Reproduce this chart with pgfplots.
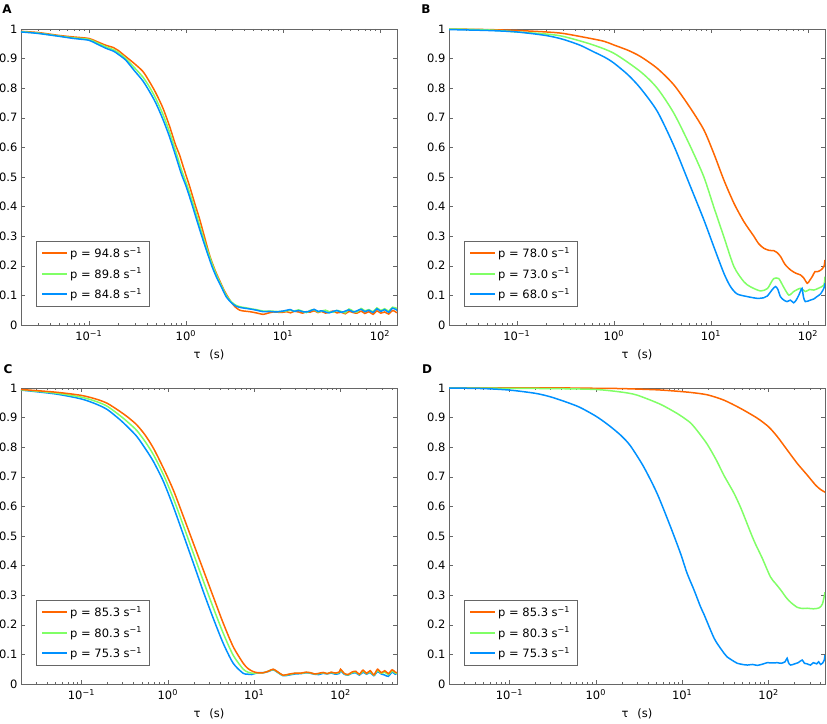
\documentclass[border=0pt]{standalone}
\usepackage{fontspec}
\setmainfont{DejaVu Sans}
\usepackage{pgfplots}
\pgfplotsset{compat=1.18}
\definecolor{cO}{RGB}{255,102,0}
\definecolor{cG}{RGB}{128,255,102}
\definecolor{cB}{RGB}{0,145,255}
\newcommand{\fs}{\fontsize{11.5}{13}\selectfont}
\pgfplotsset{panel/.style={
  scale only axis, width=376pt, height=296pt, anchor=south west,
  ymin=0, ymax=1, xmin=0.02,
  ytick={0,0.1,0.2,0.3,0.4,0.5,0.6,0.7,0.8,0.9,1},
  yticklabels={0,0.1,0.2,0.3,0.4,0.5,0.6,0.7,0.8,0.9,1},
  xtick={0.1,1,10,100},
  xticklabels={10\textsuperscript{−1},10\textsuperscript{0},10\textsuperscript{1},10\textsuperscript{2}},
  tick align=inside, major tick length=4pt, minor tick length=2pt,
  axis line style={black!60, line width=0.6pt},
  every tick/.append style={black!60, line width=0.5pt},
  tick label style={font=\fs},
  xticklabel style={yshift=-2pt},
  xlabel={τ\hspace{9pt}(s)}, xlabel style={font=\fs, yshift=-2pt},
  legend style={at={(rel axis cs:0.04,0.064)}, anchor=south west, draw=black!60,
    font=\fs, row sep=5pt, inner xsep=5pt, inner ysep=3.5pt},
  legend cell align=left,
  legend image code/.code={\draw[##1, line width=2pt] (0pt,0pt) -- (25pt,0pt);},
  every axis plot/.append style={line width=1.5pt, smooth, tension=0.45},
}}
\begin{document}
\begin{tikzpicture}
% ---------------- A ----------------
\begin{axis}[xmode=log, panel, at={(21pt,398pt)}, xmax=150,
  minor xtick={0.03,0.04,0.05,0.06,0.07,0.08,0.09,0.2,0.3,0.4,0.5,0.6,0.7,0.8,0.9,2,3,4,5,6,7,8,9,20,30,40,50,60,70,80,90}]
\addlegendimage{cO}\addlegendentry{p = 94.8 s\textsuperscript{−1}}
\addlegendimage{cG}\addlegendentry{p = 89.8 s\textsuperscript{−1}}
\addlegendimage{cB}\addlegendentry{p = 84.8 s\textsuperscript{−1}}
\addplot[cO, forget plot] table {
0.02 0.992
0.03 0.988
0.05 0.978
0.07 0.973
0.1 0.968
0.12 0.958
0.15 0.945
0.18 0.937
0.2 0.928
0.24 0.907
0.29 0.885
0.36 0.857
0.42 0.823
0.49 0.784
0.58 0.733
0.68 0.671
0.78 0.610
0.86 0.575
0.95 0.530
1.09 0.470
1.25 0.405
1.38 0.360
1.55 0.300
1.76 0.235
2.0 0.185
2.23 0.150
2.5 0.115
2.83 0.085
3.2 0.062
3.59 0.050
4.0 0.047
4.56 0.045
5.3 0.041
6.26 0.036
7.0 0.040
8.0 0.044
9.0 0.043
10 0.043
11 0.045
12 0.041
13 0.046
14.5 0.044
16 0.040
17.5 0.045
19 0.043
21 0.048
23 0.042
25 0.046
27.5 0.040
30 0.044
33 0.047
36 0.041
40 0.043
44 0.038
48 0.046
53 0.042
58 0.040
64 0.047
70 0.039
77 0.045
85 0.036
93 0.048
102 0.040
112 0.044
123 0.037
135 0.049
150 0.041
};
\addplot[cG, forget plot] table {
0.02 0.991
0.03 0.986
0.05 0.976
0.07 0.970
0.1 0.965
0.12 0.954
0.15 0.940
0.18 0.930
0.2 0.921
0.24 0.900
0.29 0.872
0.36 0.838
0.42 0.805
0.49 0.765
0.58 0.712
0.68 0.651
0.79 0.585
0.9 0.525
1.01 0.480
1.15 0.425
1.28 0.375
1.45 0.315
1.62 0.265
1.85 0.210
2.06 0.170
2.35 0.130
2.61 0.100
2.95 0.078
3.31 0.066
3.8 0.060
4.2 0.058
4.8 0.054
5.34 0.052
6.26 0.047
7.3 0.047
8.5 0.046
9.3 0.045
10 0.046
11 0.048
12 0.050
13 0.047
14.5 0.051
16 0.046
17.5 0.042
19 0.049
21 0.052
23 0.044
25 0.047
27.5 0.050
30 0.045
33 0.043
36 0.049
40 0.046
44 0.041
48 0.054
53 0.047
58 0.044
64 0.056
70 0.048
77 0.052
85 0.045
93 0.058
102 0.049
112 0.055
123 0.047
135 0.060
150 0.056
};
\addplot[cB, forget plot] table {
0.02 0.990
0.03 0.985
0.05 0.975
0.07 0.968
0.1 0.962
0.12 0.950
0.15 0.935
0.18 0.925
0.2 0.915
0.24 0.895
0.29 0.862
0.36 0.825
0.42 0.790
0.49 0.750
0.58 0.695
0.68 0.635
0.79 0.569
0.9 0.510
1.01 0.467
1.15 0.410
1.28 0.360
1.45 0.303
1.62 0.255
1.85 0.200
2.06 0.163
2.35 0.125
2.61 0.095
2.95 0.075
3.31 0.063
3.8 0.058
4.2 0.056
4.8 0.053
5.34 0.050
6.26 0.045
7.3 0.046
8.5 0.044
9.3 0.046
10 0.047
11 0.050
12 0.052
13 0.046
14.5 0.049
16 0.045
17.5 0.044
19 0.047
21 0.053
23 0.046
25 0.048
27.5 0.044
30 0.041
33 0.046
36 0.049
40 0.043
44 0.047
48 0.051
53 0.044
58 0.048
64 0.053
70 0.045
77 0.050
85 0.042
93 0.055
102 0.046
112 0.052
123 0.043
135 0.057
150 0.050
};
\end{axis}
% ---------------- B ----------------
\begin{axis}[xmode=log, panel, at={(449pt,398pt)}, xmax=150,
  minor xtick={0.03,0.04,0.05,0.06,0.07,0.08,0.09,0.2,0.3,0.4,0.5,0.6,0.7,0.8,0.9,2,3,4,5,6,7,8,9,20,30,40,50,60,70,80,90}]
\addlegendimage{cO}\addlegendentry{p = 78.0 s\textsuperscript{−1}}
\addlegendimage{cG}\addlegendentry{p = 73.0 s\textsuperscript{−1}}
\addlegendimage{cB}\addlegendentry{p = 68.0 s\textsuperscript{−1}}
\addplot[cO, forget plot] table {
0.02 1.0
0.05 0.998
0.1 0.995
0.2 0.990
0.3 0.985
0.575 0.968
0.8 0.958
1 0.946
1.4 0.928
1.88 0.907
2.8 0.867
4.16 0.811
6.17 0.732
8.47 0.659
10.7 0.580
13.6 0.490
17.3 0.411
21.9 0.349
27.7 0.300
31 0.275
35.2 0.259
40 0.252
44.6 0.251
48 0.245
52.3 0.231
58 0.205
66.2 0.186
75 0.175
84 0.169
90 0.160
98.4 0.141
104 0.150
111 0.164
118 0.180
125 0.180
135 0.185
146 0.197
150 0.220
};
\addplot[cG, forget plot] table {
0.02 1.0
0.05 0.997
0.1 0.990
0.2 0.983
0.3 0.975
0.575 0.949
1 0.918
1.88 0.856
2.8 0.800
4.16 0.715
6.17 0.602
8.47 0.500
10.7 0.399
13.6 0.298
17.3 0.197
21.9 0.146
25.6 0.129
32.5 0.115
38.2 0.123
42 0.145
44.6 0.157
50 0.157
56 0.129
63.6 0.101
71.3 0.113
84 0.124
94 0.113
104 0.120
115 0.118
130 0.125
146 0.135
150 0.163
};
\addplot[cB, forget plot] table {
0.02 0.998
0.05 0.995
0.1 0.990
0.2 0.978
0.3 0.965
0.45 0.945
0.6 0.925
0.8 0.905
1 0.885
1.4 0.845
1.88 0.800
2.8 0.722
4.16 0.605
6.17 0.467
8.47 0.355
10.7 0.265
13.6 0.175
15.9 0.130
18.6 0.105
23.7 0.096
30.1 0.090
35 0.092
38.2 0.098
42.8 0.119
46.3 0.130
49 0.120
52 0.096
56 0.085
60.9 0.079
66 0.084
71.3 0.075
76 0.085
80.6 0.101
84 0.115
87 0.124
90 0.095
94 0.079
106 0.084
115 0.088
124 0.096
135 0.105
146 0.124
150 0.141
};
\end{axis}
% ---------------- C ----------------
\begin{axis}[xmode=log, panel, at={(21pt,39pt)}, xmax=450,
  minor xtick={0.03,0.04,0.05,0.06,0.07,0.08,0.09,0.2,0.3,0.4,0.5,0.6,0.7,0.8,0.9,2,3,4,5,6,7,8,9,20,30,40,50,60,70,80,90,200,300,400}]
\addlegendimage{cO}\addlegendentry{p = 85.3 s\textsuperscript{−1}}
\addlegendimage{cG}\addlegendentry{p = 80.3 s\textsuperscript{−1}}
\addlegendimage{cB}\addlegendentry{p = 75.3 s\textsuperscript{−1}}
\addplot[cB, forget plot] table {
0.02 0.993
0.05 0.980
0.1 0.963
0.15 0.945
0.2 0.927
0.282 0.892
0.35 0.866
0.439 0.836
0.55 0.795
0.684 0.751
0.891 0.684
1.16 0.599
1.52 0.503
1.98 0.408
2.58 0.312
3.36 0.222
4.39 0.137
5.72 0.070
7.47 0.036
8.5 0.033
9.3 0.032
11 0.038
12.7 0.038
14.5 0.042
16.6 0.048
18.5 0.040
21.6 0.028
25 0.030
30 0.034
35 0.035
40 0.038
45 0.036
50 0.033
56 0.032
63 0.036
70 0.034
78 0.037
87 0.033
97 0.036
100 0.045
110 0.033
122 0.030
135 0.036
150 0.038
165 0.030
182 0.040
200 0.033
220 0.039
243 0.028
268 0.042
295 0.034
325 0.030
358 0.026
395 0.040
430 0.033
450 0.036
};
\addplot[cG, forget plot] table {
0.02 0.994
0.05 0.983
0.1 0.969
0.15 0.954
0.2 0.938
0.282 0.906
0.35 0.883
0.439 0.856
0.55 0.818
0.684 0.774
0.891 0.707
1.16 0.627
1.52 0.534
1.98 0.441
2.58 0.348
3.36 0.258
4.39 0.171
5.72 0.097
7.47 0.050
8.5 0.040
9.73 0.036
11 0.038
12.7 0.038
14.5 0.043
16.6 0.049
18.5 0.041
21.6 0.029
25 0.032
30 0.036
35 0.036
40 0.039
45 0.037
50 0.034
56 0.035
63 0.038
70 0.035
78 0.039
87 0.036
97 0.039
100 0.048
110 0.035
122 0.031
135 0.038
150 0.041
165 0.032
182 0.044
200 0.035
220 0.042
243 0.030
268 0.046
295 0.036
325 0.040
358 0.032
395 0.044
430 0.037
450 0.037
};
\addplot[cO, forget plot] table {
0.02 0.995
0.05 0.986
0.1 0.975
0.15 0.962
0.2 0.948
0.282 0.920
0.35 0.900
0.439 0.875
0.55 0.840
0.684 0.796
0.891 0.729
1.16 0.655
1.52 0.565
1.98 0.475
2.58 0.385
3.36 0.295
4.39 0.205
5.72 0.126
7.47 0.070
8.5 0.052
9.73 0.042
11 0.038
12.7 0.038
14.5 0.043
16.6 0.050
18.5 0.042
21.6 0.030
25 0.033
30 0.037
35 0.037
40 0.040
45 0.038
50 0.034
56 0.036
63 0.039
70 0.035
78 0.040
87 0.037
97 0.041
100 0.050
110 0.036
122 0.032
135 0.040
150 0.043
165 0.033
182 0.047
200 0.036
220 0.045
243 0.031
268 0.050
295 0.038
325 0.045
358 0.035
395 0.048
430 0.040
450 0.038
};
\end{axis}
% ---------------- D ----------------
\begin{axis}[xmode=log, panel, at={(449pt,39pt)}, xmax=450,
  minor xtick={0.03,0.04,0.05,0.06,0.07,0.08,0.09,0.2,0.3,0.4,0.5,0.6,0.7,0.8,0.9,2,3,4,5,6,7,8,9,20,30,40,50,60,70,80,90,200,300,400}]
\addlegendimage{cO}\addlegendentry{p = 85.3 s\textsuperscript{−1}}
\addlegendimage{cG}\addlegendentry{p = 80.3 s\textsuperscript{−1}}
\addlegendimage{cB}\addlegendentry{p = 75.3 s\textsuperscript{−1}}
\addplot[cO, forget plot] table {
0.02 1.0
0.1 1.0
0.5 1.0
1 0.999
2 0.998
5 0.994
8 0.990
12.5 0.985
19.5 0.977
30.4 0.959
47.4 0.931
74 0.898
100 0.869
126 0.836
164 0.791
215 0.745
280 0.706
350 0.672
400 0.657
450 0.648
};
\addplot[cG, forget plot] table {
0.02 1.0
0.3 0.998
1 0.995
2 0.986
3 0.976
5.6 0.945
8.75 0.914
10 0.903
12.5 0.882
15 0.855
19.5 0.810
25 0.755
30.4 0.705
39.7 0.645
47.7 0.595
55 0.550
62.3 0.510
70 0.475
84.5 0.425
105 0.362
120 0.340
138 0.318
160 0.292
180 0.276
215 0.259
250 0.255
280 0.256
330 0.254
383 0.257
420 0.270
450 0.310
};
\addplot[cB, forget plot] table {
0.02 1.0
0.05 0.998
0.1 0.993
0.2 0.982
0.3 0.970
0.45 0.953
0.65 0.935
1.0 0.905
1.4 0.875
1.95 0.840
2.51 0.805
3.58 0.734
5.12 0.644
7.31 0.532
9.57 0.441
11.4 0.374
13.7 0.318
16.3 0.261
17.9 0.235
21.3 0.182
23.4 0.155
25.4 0.137
30.5 0.104
33 0.092
39.9 0.076
43.4 0.070
50 0.066
57 0.064
65 0.066
74 0.063
85 0.067
96.5 0.072
110 0.071
126 0.072
140 0.070
155 0.075
164 0.087
170 0.072
180 0.064
200 0.068
220 0.072
245 0.081
260 0.070
280 0.068
306 0.064
330 0.072
360 0.068
380 0.075
400 0.066
420 0.070
440 0.080
450 0.098
};
\end{axis}
\node[font=\bfseries\fontsize{12}{14}\selectfont] at (7pt,714pt) {A};
\node[font=\bfseries\fontsize{12}{14}\selectfont] at (426pt,714pt) {B};
\node[font=\bfseries\fontsize{12}{14}\selectfont] at (8pt,354pt) {C};
\node[font=\bfseries\fontsize{12}{14}\selectfont] at (427pt,354pt) {D};
\pgfresetboundingbox
\path[use as bounding box] (0,0) rectangle (827pt,723pt);
\end{tikzpicture}
\end{document}
